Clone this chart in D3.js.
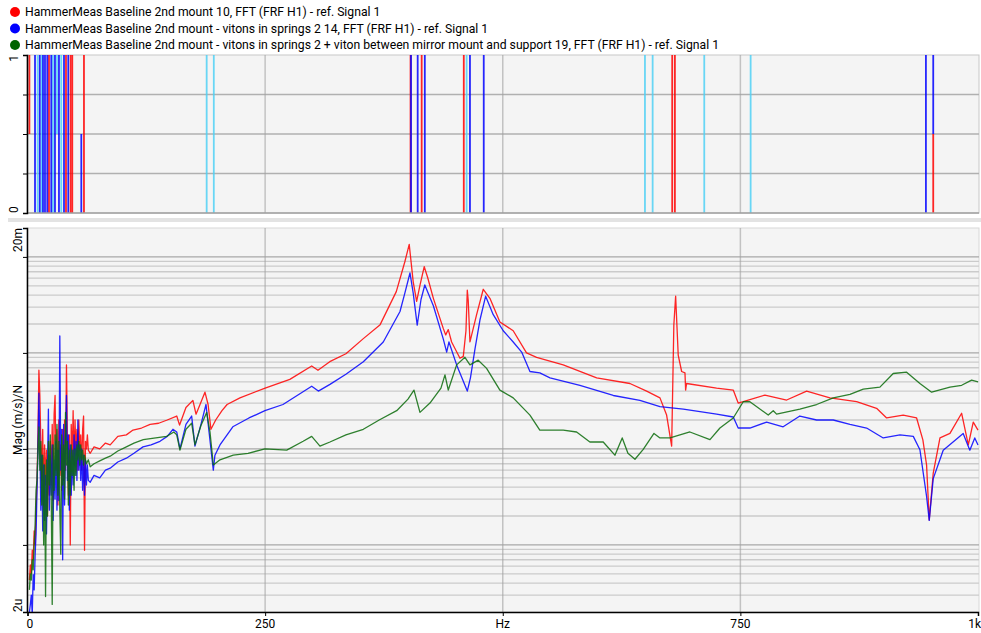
<!DOCTYPE html>
<html>
<head>
<meta charset="utf-8">
<script src="https://cdn.jsdelivr.net/npm/d3@7"></script>
<style>
  body { margin: 0; background: #fff; }
  svg text { font-family: "Segoe UI", Roboto, sans-serif; fill: #000; }
</style>
</head>
<body>
<script>
const width = 981, height = 633;

// legend entries
const seriesNames = [
  "HammerMeas Baseline 2nd mount 10, FFT (FRF H1) - ref. Signal 1",
  "HammerMeas Baseline 2nd mount - vitons in springs 2 14, FFT (FRF H1) - ref. Signal 1",
  "HammerMeas Baseline 2nd mount - vitons in springs 2 + viton between mirror mount and support 19, FFT (FRF H1) - ref. Signal 1"
];

// x axis ticks (Hz)
const xTicks = [0, 250, 500, 750, 1000];
const xTickLabels = ["0", "250", "Hz", "750", "1k"];

// FRF magnitude, [Hz, (m/s)/N]
const redFRF = [[2,4.3e-6],[3,6.2e-6],[4,5.0e-6],[5,8.8e-6],[6,7.0e-6],[7,1.4e-5],[8,1.0e-5],[9,2.3e-5],[10,4.7e-5],[11,1.4e-4],[12,6.6e-4],[13,3.6e-4],[14,1.2e-4],[15,4.7e-5],[16,1.6e-4],[17,2.6e-5],[18,1.1e-4],[19,4.2e-5],[20,9.7e-5],[21,2.0e-5],[22,8.6e-5],[23,3.3e-5],[24,1.2e-4],[25,4.2e-5],[26,1.8e-4],[27,2.9e-5],[28,2.3e-4],[29,3.6e-4],[30,6.0e-5],[31,1.6e-4],[32,2.6e-5],[33,2.0e-4],[34,5.3e-5],[35,1.1e-4],[36,3.7e-5],[37,1.6e-4],[38,4.7e-5],[39,2.0e-4],[40,6.0e-5],[41,7.5e-4],[42,1.2e-4],[43,3.3e-5],[44,1.4e-4],[45,1.0e-5],[46,1.8e-4],[47,7.7e-5],[48,2.5e-4],[49,6.8e-5],[50,2.0e-4],[51,8.6e-5],[52,1.6e-4],[53,6.0e-5],[54,2.0e-4],[55,9.7e-5],[56,1.4e-4],[57,6.0e-5],[58,1.6e-4],[59,2.2e-4],[60,8.8e-6],[61,1.2e-4],[62,1.0e-4],[63,1.4e-4],[64,9.7e-5],[66,9.0e-5],[70,1.05e-4],[76,1.0e-4],[82,1.15e-4],[87,1.1e-4],[95,1.35e-4],[104,1.4e-4],[111,1.57e-4],[120,1.65e-4],[129,1.8e-4],[138,1.85e-4],[147,2.0e-4],[157,2.2e-4],[160,1.77e-4],[166.7,2.7e-4],[174,3.2e-4],[177.3,2.3e-4],[181.5,2.9e-4],[186.7,3.9e-4],[190,2.9e-4],[193,1.6e-4],[198,2.0e-4],[204.6,2.5e-4],[210,2.9e-4],[223.5,3.4e-4],[250,4.3e-4],[276,5.3e-4],[299,7.3e-4],[305.6,6.6e-4],[318,8.1e-4],[335,9.8e-4],[353,1.4e-3],[371,1.97e-3],[388,4.35e-3],[397,8.9e-3],[401.6,1.35e-2],[405.8,5.5e-3],[409.4,3.45e-3],[413,5.1e-3],[417.4,7.9e-3],[421,6.1e-3],[427,3.7e-3],[437.4,1.8e-3],[440,1.54e-3],[442.7,1.75e-3],[446.2,1.3e-3],[455,8.8e-4],[458.5,9.2e-4],[461.3,1.7e-3],[462.7,4.5e-3],[463.7,3.5e-3],[465.5,1.3e-3],[472.5,2.5e-3],[479.5,4.6e-3],[486.5,3.7e-3],[497,2.1e-3],[511,1.7e-3],[525,1.0e-3],[535.6,9.0e-4],[563.6,7.5e-4],[598.8,5.5e-4],[633.8,4.8e-4],[651.4,4.0e-4],[665.4,3.4e-4],[672.4,2.25e-4],[677.7,1.07e-4],[680,1.95e-3],[681.9,3.9e-3],[684.6,9.5e-4],[688.2,6.4e-4],[691.7,6.2e-4],[692.4,4.1e-4],[693.4,4.8e-4],[725,4.3e-4],[742.5,4.1e-4],[747.7,3.0e-4],[753,3.1e-4],[775.8,3.64e-4],[798.7,3.23e-4],[819.7,4.0e-4],[844.2,3.4e-4],[872.3,3.1e-4],[893.3,2.65e-4],[903.9,2.1e-4],[921.3,2.25e-4],[935.4,2.1e-4],[942,1.24e-4],[945.9,6.8e-5],[948.7,1.82e-5],[952.9,5.6e-5],[960,1.3e-4],[970.5,1.45e-4],[982.8,2.35e-4],[989.8,1.1e-4],[995,1.9e-4],[1000,1.57e-4]];

const blueFRF = [[2,2.0e-6],[3,2.4e-6],[4,3.0e-6],[5,1.9e-6],[6,4.9e-6],[7,3.4e-6],[8,7.8e-6],[9,1.3e-5],[10,3.7e-5],[11,1.1e-4],[12,3.8e-4],[13,1.2e-4],[14,2.3e-5],[15,8.6e-5],[16,1.4e-5],[17,6.8e-5],[18,1.8e-5],[19,5.3e-5],[20,1.3e-5],[21,6.0e-5],[22,2.6e-4],[23,2.3e-5],[24,8.6e-5],[25,3.3e-5],[26,1.1e-4],[27,1.8e-5],[28,7.7e-5],[29,3.0e-5],[30,1.2e-4],[31,2.3e-5],[32,9.7e-5],[33,2.9e-5],[34,1.5e-3],[35,6.0e-5],[36,1.6e-4],[37,7.0e-6],[38,1.8e-4],[39,2.6e-5],[40,1.2e-4],[41,3.6e-4],[42,4.7e-5],[43,1.4e-4],[44,2.3e-5],[45,1.1e-4],[46,3.3e-5],[47,9.7e-5],[48,4.2e-5],[49,1.4e-4],[50,5.3e-5],[51,1.2e-4],[52,4.7e-5],[53,2.0e-4],[54,6.0e-5],[55,1.1e-4],[56,4.7e-5],[57,1.0e-4],[58,3.7e-5],[59,8.6e-5],[60,3.3e-5],[61,7.7e-5],[62,4.2e-5],[63,6.8e-5],[64,4.7e-5],[66,4.5e-5],[70,5.3e-5],[76,5.0e-5],[82,6.0e-5],[87,6.3e-5],[95,7.3e-5],[104,8.0e-5],[112,9.0e-5],[121.5,1.05e-4],[130,1.1e-4],[139.4,1.2e-4],[147,1.35e-4],[153,1.6e-4],[157,1.5e-4],[160.4,1.0e-4],[166.7,1.8e-4],[172.7,2.2e-4],[176.2,1.07e-4],[182.5,1.8e-4],[187.8,2.9e-4],[191,1.5e-4],[195.5,6.0e-5],[197.2,8.6e-5],[202.5,1.1e-4],[216,1.7e-4],[233,2.1e-4],[249.8,2.5e-4],[268.8,2.9e-4],[299,4.5e-4],[306,4.0e-4],[318.2,4.7e-4],[335,6.0e-4],[353.3,8.1e-4],[374.3,1.3e-3],[391.9,2.7e-3],[397,4.2e-3],[402.4,6.8e-3],[405.8,4.2e-3],[410,1.95e-3],[414,3.6e-3],[418,5.1e-3],[427,3.1e-3],[437.4,1.4e-3],[441,1.02e-3],[443.4,1.3e-3],[451.5,7.5e-4],[457,5.5e-4],[462.7,4.0e-4],[466,5.5e-4],[470.8,1.1e-3],[476,2.2e-3],[482,3.9e-3],[490,2.5e-3],[500.5,1.7e-3],[511,1.3e-3],[519.9,1.02e-3],[528.6,6.4e-4],[539,6.2e-4],[549.7,5.5e-4],[581.2,4.6e-4],[616.3,3.6e-4],[644.3,3.2e-4],[665.4,2.75e-4],[690,2.6e-4],[725,2.3e-4],[742.5,2.15e-4],[747.7,1.65e-4],[760,1.65e-4],[777.6,1.9e-4],[795,1.7e-4],[812.6,2.2e-4],[830.2,2.0e-4],[847.7,2.0e-4],[865.3,1.8e-4],[882.8,1.65e-4],[900.3,1.3e-4],[917.9,1.4e-4],[931.9,1.35e-4],[938.9,9.8e-5],[945.9,3.2e-5],[948.7,1.8e-5],[952.9,4.9e-5],[963.4,9.7e-5],[984.4,1.45e-4],[991.4,9.7e-5],[996.6,1.3e-4],[1000,1.1e-4]];

const greenFRF = [[2,3.4e-6],[3,5.0e-6],[4,4.3e-6],[5,7.0e-6],[6,5.5e-6],[7,1.0e-5],[8,1.6e-5],[9,3.7e-5],[10,4.7e-5],[11,9.7e-5],[12,1.7e-4],[13,6.0e-5],[14,1.2e-4],[15,2.6e-5],[16,8.6e-5],[17,1.0e-5],[18,6.8e-5],[19,2.9e-6],[20,7.7e-5],[21,2.0e-5],[22,1.2e-4],[23,4.2e-5],[24,1.4e-4],[25,3.0e-5],[26,2.4e-6],[27,1.1e-4],[28,3.7e-5],[29,1.4e-4],[30,5.3e-5],[31,1.8e-4],[32,3.3e-5],[33,1.2e-4],[34,2.3e-5],[35,8.0e-6],[36,1.4e-4],[37,4.2e-5],[38,1.1e-4],[39,3.0e-5],[40,2.4e-4],[41,6.8e-5],[42,1.2e-4],[43,2.6e-5],[44,9.7e-5],[45,3.3e-5],[46,1.1e-4],[47,5.3e-5],[48,9.7e-5],[49,3.7e-5],[50,1.0e-4],[51,5.3e-5],[52,1.1e-4],[53,7.7e-5],[54,1.2e-4],[55,6.8e-5],[56,1.1e-4],[57,7.7e-5],[58,9.7e-5],[59,6.8e-5],[60,8.6e-5],[62,7.0e-5],[64,7.7e-5],[66,6.5e-5],[70,7.0e-5],[76,7.5e-5],[82,8.0e-5],[87,8.4e-5],[95,9.5e-5],[104,1.05e-4],[112,1.15e-4],[121.8,1.25e-4],[135,1.3e-4],[146.4,1.35e-4],[154,1.5e-4],[157,1.4e-4],[160.4,9.7e-5],[166.7,1.6e-4],[172.7,1.85e-4],[176.2,1.1e-4],[182.5,1.75e-4],[188.5,2.4e-4],[192,1.5e-4],[195.5,6.8e-5],[202.5,7.7e-5],[216.5,8.6e-5],[232,9.0e-5],[249.8,1.0e-4],[272.7,9.7e-5],[290,1.2e-4],[299,1.35e-4],[307.7,1.07e-4],[318.2,1.18e-4],[335,1.4e-4],[353.3,1.6e-4],[370,2.0e-4],[388.4,2.5e-4],[400.3,3.3e-4],[406.6,4.1e-4],[412.9,2.4e-4],[423.4,3.0e-4],[435,4.3e-4],[439.2,5.9e-4],[442.7,4.1e-4],[451.5,7.5e-4],[460.2,9.0e-4],[465.5,7.5e-4],[474.2,8.4e-4],[483,6.9e-4],[497,4.1e-4],[511,3.4e-4],[528.6,2.25e-4],[539,1.57e-4],[563.6,1.57e-4],[577.7,1.5e-4],[591.7,1.18e-4],[605.7,1.18e-4],[618,8.6e-5],[625.7,1.3e-4],[631.7,9.0e-5],[639.1,7.8e-5],[647.8,9.9e-5],[659.1,1.45e-4],[665.4,1.3e-4],[676,1.3e-4],[696.9,1.5e-4],[718,1.25e-4],[728.5,1.65e-4],[742.5,2.1e-4],[753,3.1e-4],[760,3.1e-4],[779.3,2.25e-4],[784.6,2.5e-4],[788.1,2.3e-4],[812.6,2.6e-4],[830.2,2.9e-4],[847.7,3.4e-4],[865.3,3.7e-4],[879.3,4.2e-4],[896.8,4.4e-4],[910.8,6.1e-4],[924.9,6.3e-4],[938.9,4.8e-4],[951.2,3.9e-4],[970.5,4.4e-4],[982.8,4.6e-4],[993.3,5.2e-4],[1000,5.0e-4]];

// upper panel flags, [Hz, from, to]
const flagsRed = [[2,0.5,1],[22.6,0,1],[40.5,0,1],[45.4,0,1],[47.1,0,1],[59.4,0,1],[403,0,1],[414.7,0,1],[459,0,1],[678.3,0,1],[681.1,0,1],[952.9,0,0.5]];
const flagsBlue = [[7.9,0,1],[12.9,0,1],[16.3,0,1],[18.4,0,1],[20.8,0,1],[25,0,1],[28.9,0,1],[33.1,0,1],[38.4,0,1],[42.9,0,1],[56.6,0,0.5],[403.5,0,1],[410.5,0,1],[418,0,1],[465.5,0,1],[480,0,1],[945.2,0,1],[952.9,0.5,1]];
const flagsCyan = [[10.7,0,1],[14.9,0,1],[26.8,0,1],[31,0.5,1],[35.5,0,1],[188.5,0,1],[196,0,1],[462,0,1],[649.6,0,1],[657.7,0,1],[712,0,1],[760.8,0,1]];

const colors = ["#ff0000", "#0000ff", "#006400"];

const svg = d3.select("body").append("svg")
    .attr("width", width)
    .attr("height", height);

svg.append("rect").attr("width", width).attr("height", height).attr("fill", "#fff");

// legend
const legend = svg.append("g");
seriesNames.forEach((name, i) => {
  legend.append("circle")
      .attr("cx", 15).attr("cy", 12 + i * 16.5).attr("r", 5)
      .attr("fill", colors[i]);
  legend.append("text")
      .attr("x", 25).attr("y", 16 + i * 16.5)
      .style("font-size", "12.2px")
      .text(name);
});

const left = 27, right = 979;
const top1 = 55, bot1 = 213;
const top2 = 228, bot2 = 612;

const x = d3.scaleLinear().domain([0, 1000]).range([27.5, 978]);
const yTop = d3.scaleLinear().domain([0, 1]).range([bot1, top1]);
const y = d3.scaleLog().domain([2e-6, 2e-2]).range([bot2, top2]);

// separator strip between panels
svg.append("rect").attr("x", 8).attr("y", 218).attr("width", width - 8).attr("height", 4).attr("fill", "#e3e3e3");

// panel backgrounds
svg.append("rect").attr("x", left).attr("y", top1).attr("width", right - left).attr("height", bot1 - top1)
    .attr("fill", "#f4f4f4").attr("stroke", "#c8c8c8");
svg.append("rect").attr("x", left).attr("y", top2).attr("width", right - left).attr("height", bot2 - top2)
    .attr("fill", "#f4f4f4").attr("stroke", "#d8d8d8");

// ---- upper panel ----
const g1 = svg.append("g");
g1.selectAll(".hg").data([0.25, 0.5, 0.75]).enter().append("line")
    .attr("x1", left).attr("x2", right)
    .attr("y1", d => yTop(d)).attr("y2", d => yTop(d))
    .attr("stroke", "#b0b0b0").attr("stroke-width", 1.5);
g1.selectAll(".vg").data(xTicks.slice(1, 4)).enter().append("line")
    .attr("x1", d => x(d)).attr("x2", d => x(d))
    .attr("y1", top1).attr("y2", bot1)
    .attr("stroke", "#a0a0a0").attr("stroke-opacity", 0.6).attr("stroke-width", 1.5);

function drawFlags(data, color) {
  g1.selectAll(null).data(data).enter().append("line")
      .attr("x1", d => x(d[0])).attr("x2", d => x(d[0]))
      .attr("y1", d => yTop(d[1])).attr("y2", d => yTop(d[2]))
      .attr("stroke", color).attr("stroke-width", 1.8).attr("stroke-opacity", 0.85);
}
drawFlags(flagsCyan, "#4fd0f5");
drawFlags(flagsRed, "#ff0000");
drawFlags(flagsBlue, "#0000ff");

g1.append("line").attr("x1", left).attr("x2", right).attr("y1", bot1).attr("y2", bot1)
    .attr("stroke", "#a0a0a0").attr("stroke-width", 1.5);

const yTopAxis = g1.append("g")
    .attr("transform", `translate(${left},0)`)
    .call(d3.axisLeft(yTop).tickValues([0, 0.25, 0.5, 0.75, 1]).tickSize(4).tickFormat(""));
yTopAxis.select(".domain").attr("stroke", "#000").attr("stroke-width", 1.5);

g1.append("text").attr("transform", `translate(18,${top1}) rotate(-90)`)
    .attr("text-anchor", "end").style("font-size", "12px").text("1");
g1.append("text").attr("transform", `translate(18,${bot1}) rotate(-90)`)
    .attr("text-anchor", "start").style("font-size", "12px").text("0");

// ---- lower panel ----
const g2 = svg.append("g");
const minor = [];
[1e-6, 1e-5, 1e-4, 1e-3, 1e-2].forEach(dec => {
  for (let k = 1; k <= 9; k++) {
    const v = k * dec;
    if (v > 2e-6 && v < 2e-2) minor.push(v);
  }
});
g2.selectAll(".hg").data(minor).enter().append("line")
    .attr("x1", left).attr("x2", right)
    .attr("y1", d => y(d)).attr("y2", d => y(d))
    .attr("stroke", d => Math.abs(Math.log10(d) % 1) < 1e-6 ? "#a8a8a8" : "#cbcbcb")
    .attr("stroke-width", 1.3);
g2.selectAll(".vg").data(xTicks.slice(1, 4)).enter().append("line")
    .attr("x1", d => x(d)).attr("x2", d => x(d))
    .attr("y1", top2).attr("y2", bot2)
    .attr("stroke", "#a0a0a0").attr("stroke-opacity", 0.6).attr("stroke-width", 1.5);

svg.append("clipPath").attr("id", "clip2")
  .append("rect").attr("x", left + 1).attr("y", top2).attr("width", right - left - 1).attr("height", bot2 - top2);

const line = d3.line().x(d => x(d[0])).y(d => y(d[1]));
const curves = g2.append("g").attr("clip-path", "url(#clip2)");
[redFRF, blueFRF, greenFRF].forEach((data, i) => {
  curves.append("path")
      .datum(data)
      .attr("d", line)
      .attr("fill", "none")
      .attr("stroke", colors[i] === "#006400" ? "#0b6b0b" : colors[i])
      .attr("stroke-opacity", 0.85)
      .attr("stroke-width", 1.3)
      .attr("stroke-linejoin", "round");
});

const yAxis = g2.append("g")
    .attr("transform", `translate(${left},0)`)
    .call(d3.axisLeft(y).tickValues([2e-6, 1e-5, 1e-4, 1e-3, 1e-2, 2e-2]).tickSize(4).tickFormat(""));
yAxis.select(".domain").attr("stroke", "#000").attr("stroke-width", 1.5);

const xAxis = g2.append("g")
    .attr("transform", `translate(0,${bot2})`)
    .call(d3.axisBottom(x).tickValues(xTicks).tickSize(4).tickFormat(""));
xAxis.select(".domain").attr("stroke", "#000").attr("stroke-width", 1.5);

g2.selectAll(".xl").data(xTicks).enter().append("text")
    .attr("x", (d, i) => i === 0 ? x(d) - 1 : (i === 4 ? width : x(d)))
    .attr("y", 628)
    .attr("text-anchor", (d, i) => i === 0 ? "start" : (i === 4 ? "end" : "middle"))
    .style("font-size", "12px")
    .text((d, i) => xTickLabels[i]);

g2.append("text").attr("transform", `translate(22,${top2}) rotate(-90)`)
    .attr("text-anchor", "end").style("font-size", "12px").text("20m");
g2.append("text").attr("transform", `translate(22,${bot2}) rotate(-90)`)
    .attr("text-anchor", "start").style("font-size", "12px").text("2u");
g2.append("text").attr("transform", `translate(22,${(top2 + bot2) / 2}) rotate(-90)`)
    .attr("text-anchor", "middle").style("font-size", "12px").text("Mag (m/s)/N");
</script>
</body>
</html>
